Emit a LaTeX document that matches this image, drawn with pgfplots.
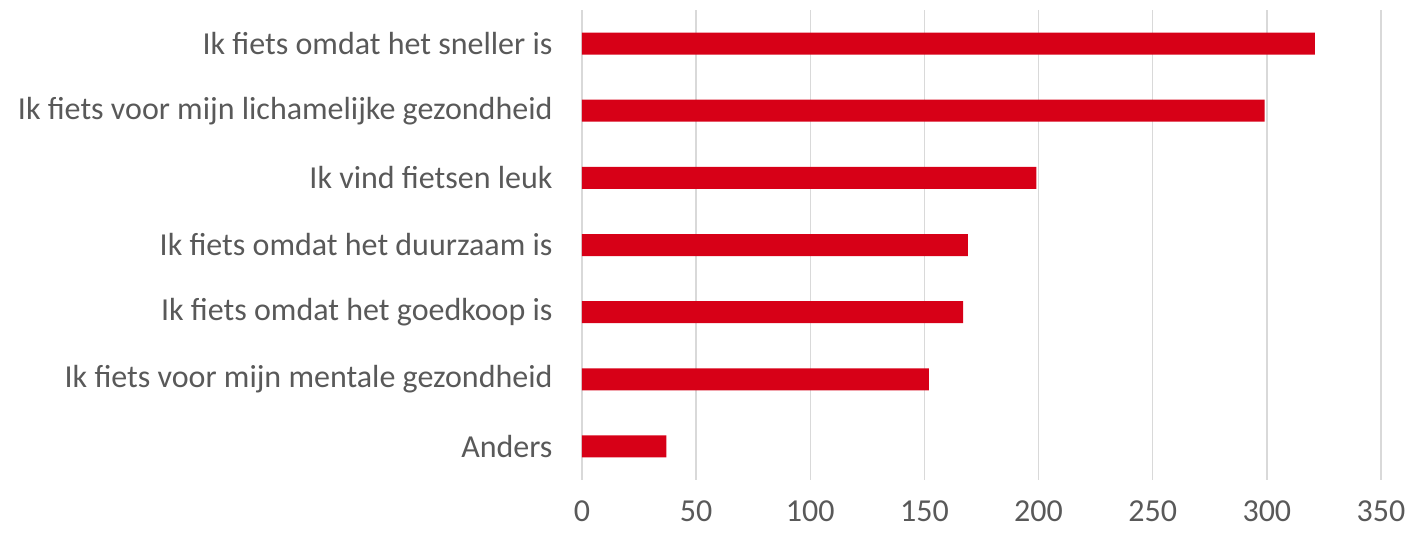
\documentclass[border=0pt]{standalone}
\usepackage{fontspec}
\setmainfont{Carlito}
\usepackage{pgfplots}
\pgfplotsset{compat=1.18}
\definecolor{barred}{HTML}{D70017}
\definecolor{txtgray}{HTML}{595959}
\definecolor{gridgray}{HTML}{D9D9D9}
\begin{document}
\begin{tikzpicture}[x=1pt,y=1pt]
\begin{axis}[
  name=ax,
  scale only axis,
  width=799pt, height=470pt,
  xbar, bar width=22pt,
  xmin=0, xmax=350,
  ymin=-0.5, ymax=6.5,
  y dir=reverse,
  ytick={0,1,2,3,4,5,6},
  yticklabels={Ik fiets omdat het sneller is,Ik fiets voor mijn lichamelijke gezondheid,Ik vind fietsen leuk,Ik fiets omdat het duurzaam is,Ik fiets omdat het goedkoop is,Ik fiets voor mijn mentale gezondheid,Anders},
  xtick={0,50,...,350},
  axis line style={draw=none},
  major tick length=0pt,
  xmajorgrids,
  grid style={gridgray, line width=1.5pt},
  tick label style={font=\fontsize{32}{38}\selectfont, text=txtgray},
  /pgf/number format/assume math mode=true,
  yticklabel style={xshift=-26pt},
  xticklabel style={yshift=-17pt},
]
\addplot[fill=barred, draw=none] coordinates {(321,0) (299,1) (199,2) (169,3) (167,4) (152,5) (37,6)};
\end{axis}
\pgfresetboundingbox
\path[use as bounding box] ([xshift=-582pt,yshift=-56pt]ax.south west) rectangle ([xshift=28pt,yshift=10pt]ax.north east);
\end{tikzpicture}
\end{document}
